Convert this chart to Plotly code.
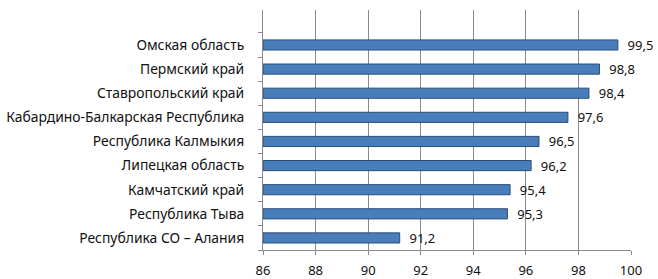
import plotly.graph_objects as go

categories = ["Республика СО – Алания", "Республика Тыва", "Камчатский край",
              "Липецкая область", "Республика Калмыкия", "Кабардино-Балкарская Республика",
              "Ставропольский край", "Пермский край", "Омская область"]
values = [91.2, 95.3, 95.4, 96.2, 96.5, 97.6, 98.4, 98.8, 99.5]
labels = ["\u00a0\u00a0" + f"{v:.1f}".replace(".", ",") for v in values]
x_ticks = [86, 88, 90, 92, 94, 96, 98, 100]

fig = go.Figure(go.Bar(
    y=categories, x=[v - 86 for v in values], base=86, orientation="h",
    marker=dict(color="#4a7ebb", line=dict(color="#2a4d7a", width=1)),
    text=labels, textposition="outside", cliponaxis=False, constraintext="none",
    textfont=dict(size=13, color="#111111"),
    width=0.42,
))

fig.update_layout(
    width=658, height=279,
    margin=dict(l=263, r=27, t=10, b=29),
    paper_bgcolor="white", plot_bgcolor="white",
    font=dict(family="Noto Sans", size=12, color="#111111"),
    showlegend=False,
    xaxis=dict(range=[86, 100], tickvals=x_ticks, showgrid=True, gridcolor="#8a8a8a",
               gridwidth=1, showline=True, linecolor="#8a8a8a", ticks="outside",
               ticklen=4, tickcolor="#8a8a8a", tickfont=dict(size=13), zeroline=False,
               ticklabelstandoff=4, automargin=False),
    yaxis=dict(categoryorder="array", categoryarray=categories, range=[-0.5, 9.45],
               showline=True, linecolor="#8a8a8a", ticks="outside", ticklen=4,
               tickcolor="#8a8a8a", tickson="boundaries", showgrid=False,
               tickfont=dict(size=13.9), ticklabelstandoff=15, automargin=False),
)

fig.write_html("out.html", config={"displayModeBar": False},
               post_script="document.body.style.margin='0';")
